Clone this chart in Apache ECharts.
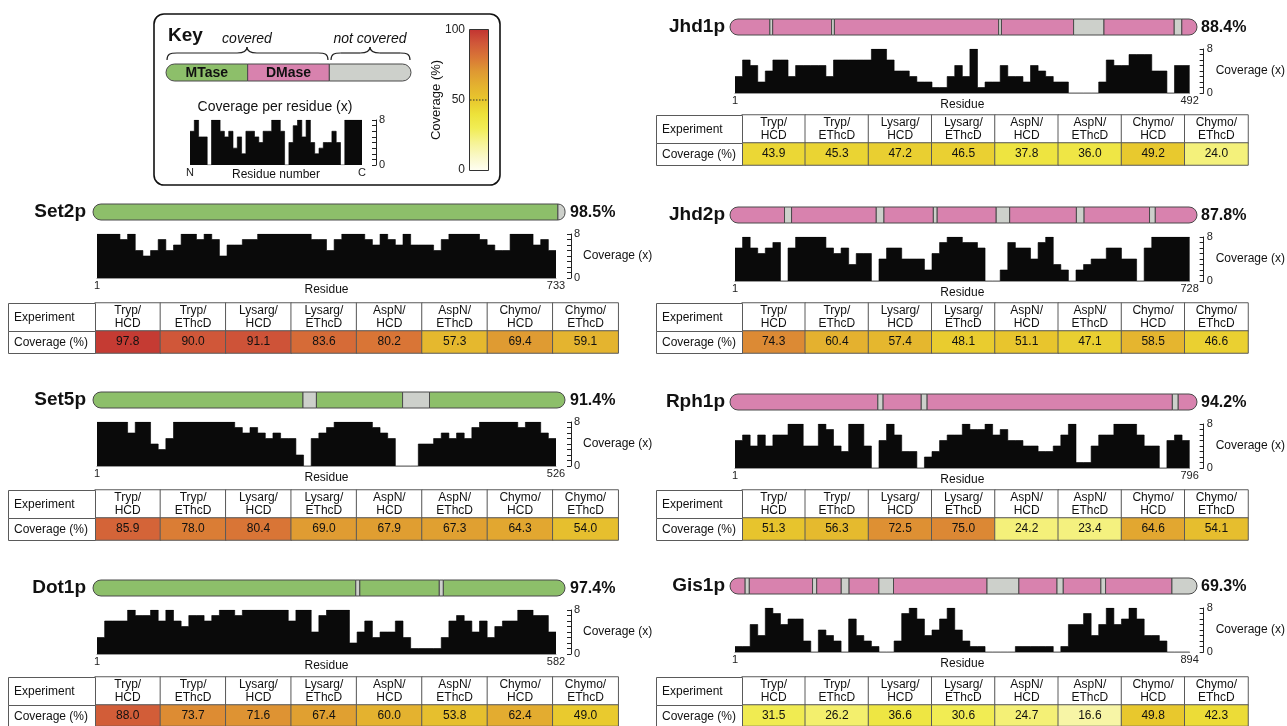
<!DOCTYPE html>
<html>
<head>
<meta charset="utf-8">
<title>Coverage</title>
<script src="https://cdn.jsdelivr.net/npm/echarts@6/dist/echarts.min.js"></script>
<style>
html,body{margin:0;padding:0;background:#fff;}
#chart{width:1287px;height:726px;}
</style>
</head>
<body>
<div id="chart"></div>
<script>
// ---- data ----
var experiments = ['Tryp/\nHCD', 'Tryp/\nEThcD', 'Lysarg/\nHCD', 'Lysarg/\nEThcD', 'AspN/\nHCD', 'AspN/\nEThcD', 'Chymo/\nHCD', 'Chymo/\nEThcD'];
var rowLabels = ['Experiment', 'Coverage (%)'];
var domainColors = ['#8dbf6a', '#d882ae', '#cdd0cb']; // 0 MTase, 1 DMase, 2 not covered
var coverageColors = ['#fffff4', '#faf8c8', '#f6f394', '#f1ed55', '#ede23a', '#e8c72d', '#e4b22f', '#df9932', '#d97636', '#d05739', '#c23331'];

var keyBins = [6,8,5,5,0,8,8,6,5,6, 3,5,2,6,6,5,4,6,6,8, 8,6,0,4,7,8,5,8,4,2, 3,4,4,6,4,0,8,8,8,8];
var keyDomains = [[0, 1, 0], [1, 2, 1], [2, 3, 2]];
var keyDomainLabels = ['MTase', 'DMase', ''];

var set2pExp = [97.8, 90.0, 91.1, 83.6, 80.2, 57.3, 69.4, 59.1];
var set5pExp = [85.9, 78.0, 80.4, 69.0, 67.9, 67.3, 64.3, 54.0];
var dot1pExp = [88.0, 73.7, 71.6, 67.4, 60.0, 53.8, 62.4, 49.0];
var jhd1pExp = [43.9, 45.3, 47.2, 46.5, 37.8, 36.0, 49.2, 24.0];
var jhd2pExp = [74.3, 60.4, 57.4, 48.1, 51.1, 47.1, 58.5, 46.6];
var rph1pExp = [51.3, 56.3, 72.5, 75.0, 24.2, 23.4, 64.6, 54.1];
var gis1pExp = [31.5, 26.2, 36.6, 30.6, 24.7, 16.6, 49.8, 42.3];

// coverage per residue, 60 equal bins along each protein
var set2pBins = [8,8,8,7,8,5,4,5,7,5, 6,8,8,7,8,7,4,6,6,7, 7,8,8,8,8,8,8,8,7,7, 5,7,8,8,8,7,6,8,7,6, 8,6,6,6,5,7,8,8,8,8, 7,6,5,5,8,8,8,6,7,5];
var set5pBins = [8,8,8,8,6,8,8,4,3,5, 8,8,8,8,8,8,8,8,7,6, 7,6,5,6,5,5,2,0,5,6, 7,8,8,8,8,8,7,6,5,0, 0,0,4,4,5,6,5,6,5,7, 8,8,8,8,8,7,8,8,6,5];
var dot1pBins = [3,6,6,6,8,7,7,8,6,8, 6,5,7,7,6,7,8,8,7,8, 8,8,8,8,8,6,8,8,4,7, 8,8,8,2,4,6,3,4,4,6, 3,1,1,1,1,3,6,7,6,4, 6,3,5,6,6,8,8,7,7,4];
var jhd1pBins = [3,6,5,2,4,6,6,3,5,5, 5,5,3,6,6,6,6,6,8,8, 6,4,4,3,2,2,1,1,3,5, 3,8,1,2,2,5,3,3,2,5, 4,3,2,2,0,0,0,0,2,6, 5,5,7,7,7,4,4,0,5,5];
var jhd2pBins = [6,8,6,5,6,7,0,6,8,8, 8,8,6,5,6,3,5,5,0,4, 6,6,4,4,4,2,5,7,8,8, 7,7,6,0,0,2,7,6,6,4, 7,8,3,2,0,2,3,4,4,6, 6,4,4,0,6,8,8,8,8,8];
var rph1pBins = [5,6,4,6,4,6,6,8,8,4, 4,8,7,4,3,8,8,4,0,5, 8,6,3,3,0,2,3,5,6,6, 8,7,7,8,6,7,5,5,4,4, 3,3,4,6,8,1,1,4,6,6, 8,8,8,6,4,4,0,5,6,5];
var gis1pBins = [1,1,5,3,8,7,5,6,6,2, 0,4,3,2,0,6,3,2,1,0, 0,2,7,8,6,3,4,6,8,4, 2,1,1,0,0,0,0,1,1,1, 1,1,0,1,5,5,7,3,5,8, 5,6,8,6,3,3,2,0,0,0];

// domain segments: [start residue, end residue, type]
var set2pDomains = [[0, 722, 0], [722, 733, 2]];
var set5pDomains = [[0, 234, 0], [234, 249, 2], [249, 345, 0], [345, 375, 2], [375, 526, 0]];
var dot1pDomains = [[0, 324, 0], [324, 329, 2], [329, 427, 0], [427, 432, 2], [432, 582, 0]];
var jhd1pDomains = [[0, 42, 1], [42, 45, 2], [45, 107, 1], [107, 110, 2], [110, 283, 1], [283, 286, 2], [286, 362, 1], [362, 394, 2], [394, 468, 1], [468, 476, 2], [476, 492, 1]];
var jhd2pDomains = [[0, 85, 1], [85, 96, 2], [96, 228, 1], [228, 240, 2], [240, 317, 1], [317, 323, 2], [323, 415, 1], [415, 436, 2], [436, 540, 1], [540, 552, 2], [552, 654, 1], [654, 663, 2], [663, 728, 1]];
var rph1pDomains = [[0, 252, 1], [252, 261, 2], [261, 326, 1], [326, 336, 2], [336, 754, 1], [754, 764, 2], [764, 796, 1]];
var gis1pDomains = [[0, 29, 1], [29, 37, 2], [37, 158, 1], [158, 166, 2], [166, 213, 1], [213, 228, 2], [228, 285, 1], [285, 313, 2], [313, 492, 1], [492, 553, 2], [553, 626, 1], [626, 638, 2], [638, 710, 1], [710, 719, 2], [719, 846, 1], [846, 894, 2]];

var proteins = [
  {name: 'Set2p', len: 733, pct: '98.5%', bins: set2pBins, domains: set2pDomains, exp: set2pExp},
  {name: 'Set5p', len: 526, pct: '91.4%', bins: set5pBins, domains: set5pDomains, exp: set5pExp},
  {name: 'Dot1p', len: 582, pct: '97.4%', bins: dot1pBins, domains: dot1pDomains, exp: dot1pExp},
  {name: 'Jhd1p', len: 492, pct: '88.4%', bins: jhd1pBins, domains: jhd1pDomains, exp: jhd1pExp},
  {name: 'Jhd2p', len: 728, pct: '87.8%', bins: jhd2pBins, domains: jhd2pDomains, exp: jhd2pExp},
  {name: 'Rph1p', len: 796, pct: '94.2%', bins: rph1pBins, domains: rph1pDomains, exp: rph1pExp},
  {name: 'Gis1p', len: 894, pct: '69.3%', bins: gis1pBins, domains: gis1pDomains, exp: gis1pExp}
];

// ---- layout ----
var FONT = '"Liberation Sans", Arial, Helvetica, sans-serif';
var BORDER = '#5a5a5a';
var columns = {
  L: {nameRight: 86, barX: 93, barW: 472, pctX: 570, histX: 97, histW: 459, axisOff: 15, tableX: 8, firstW: 87, colW: 65.4},
  R: {nameRight: 725, barX: 730, barW: 467, pctX: 1201, histX: 735, histW: 455, axisOff: 14, tableX: 656, firstW: 86, colW: 63.25}
};
var placement = [
  {col: 'L', barTop: 204, tableTop: 303},
  {col: 'L', barTop: 392, tableTop: 490},
  {col: 'L', barTop: 580, tableTop: 677},
  {col: 'R', barTop: 19, tableTop: 115},
  {col: 'R', barTop: 207, tableTop: 303},
  {col: 'R', barTop: 394, tableTop: 490},
  {col: 'R', barTop: 578, tableTop: 677}
];

var grids = [], xAxes = [], yAxes = [], series = [], graphics = [], covSeries = [];

function addGrid(g, xa, ya) {
  grids.push(g);
  var gi = grids.length - 1;
  xa.gridIndex = gi;
  ya.gridIndex = gi;
  xAxes.push(xa);
  yAxes.push(ya);
  return gi;
}

function txt(x, y, text, font, align, vAlign) {
  return {type: 'text', x: x, y: y, z: 10, silent: true,
    style: {text: text, font: font, fill: '#111', align: align, textAlign: align,
      verticalAlign: vAlign || 'middle', textVerticalAlign: vAlign || 'middle'}};
}

// curly brace pointing up, from xa to xb, tip at xm
function brace(xa, xm, xb, yLow, yMid, yTip) {
  var st = {fill: 'none', stroke: '#222', lineWidth: 1.2};
  function cv(x1, y1, c1x, c1y, c2x, c2y, x2, y2) {
    return {type: 'bezierCurve', z: 5, silent: true, style: st,
      shape: {x1: x1, y1: y1, cpx1: c1x, cpy1: c1y, cpx2: c2x, cpy2: c2y, x2: x2, y2: y2}};
  }
  function ln(x1, x2) {
    return {type: 'line', z: 5, silent: true, style: st, shape: {x1: x1, y1: yMid, x2: x2, y2: yMid}};
  }
  return [
    cv(xa, yLow, xa, yMid + 1, xa + 3, yMid, xa + 10, yMid), ln(xa + 10, xm - 10),
    cv(xm - 10, yMid, xm - 4, yMid, xm, yMid - 2, xm, yTip),
    cv(xm, yTip, xm, yMid - 2, xm + 4, yMid, xm + 10, yMid), ln(xm + 10, xb - 10),
    cv(xb - 10, yMid, xb - 3, yMid, xb, yMid + 1, xb, yLow)
  ];
}

function domainRenderer(count, labels) {
  return function (params, api) {
    var s = api.value(0), e = api.value(1), t = api.value(2);
    var p0 = api.coord([s, 1]), p1 = api.coord([e, 0]);
    var h = p1[1] - p0[1], r = h / 2, i = params.dataIndex;
    var first = i === 0, last = i === count - 1;
    var kids = [{type: 'rect',
      shape: {x: p0[0], y: p0[1], width: p1[0] - p0[0], height: h, r: [first ? r : 0, last ? r : 0, last ? r : 0, first ? r : 0]},
      style: {fill: domainColors[t], stroke: '#4a4a4a', lineWidth: 1}}];
    if (labels && labels[i]) {
      kids.push({type: 'text', style: {text: labels[i], x: (p0[0] + p1[0]) / 2, y: p0[1] + h / 2 + 1,
        align: 'center', verticalAlign: 'middle', font: 'bold 14px ' + FONT, fill: '#111'}});
    }
    return {type: 'group', children: kids};
  };
}

function addDomainBar(left, top, width, height, len, domains, labels) {
  var gi = addGrid({left: left, top: top, width: width, height: height},
    {type: 'value', min: 0, max: len, show: false},
    {type: 'value', min: 0, max: 1, show: false});
  series.push({type: 'custom', xAxisIndex: gi, yAxisIndex: gi, silent: true,
    renderItem: domainRenderer(domains.length, labels), data: domains});
}

function stepPoints(bins, x0, x1) {
  var n = bins.length, pts = bins.map(function (v, i) { return [x0 + i * (x1 - x0) / n, v]; });
  pts.push([x1, bins[n - 1]]);
  return pts;
}

function addHistogram(left, top, width, height, axisOff, x0, x1, bins, labelFn, xName, xNameGap, yName) {
  var gi = addGrid({left: left, top: top, width: width, height: height},
    {type: 'value', min: x0, max: x1, splitLine: {show: false}, axisTick: {show: false},
      axisLine: {show: xName === 'Residue', onZero: false, lineStyle: {color: '#999', width: 1}},
      axisLabel: {showMinLabel: true, showMaxLabel: true, margin: 2, fontSize: 11, color: '#222', fontFamily: FONT, formatter: labelFn},
      name: xName, nameLocation: 'middle', nameGap: xNameGap, nameMoveOverlap: false,
      nameTextStyle: {fontSize: 12, color: '#111', fontFamily: FONT}},
    {type: 'value', min: 0, max: 8, interval: 1, position: 'right', offset: axisOff, splitLine: {show: false},
      axisLine: {show: true, onZero: false, lineStyle: {color: '#222', width: 1}},
      axisTick: {show: true, inside: true, length: 4, lineStyle: {color: '#222', width: 1}},
      axisLabel: {margin: 3, fontSize: 11, color: '#222', fontFamily: FONT,
        formatter: function (v) { return (v === 0 || v === 8) ? String(v) : ''; }},
      name: yName, nameLocation: 'middle', nameRotate: 0, nameGap: 12, nameMoveOverlap: false,
      nameTextStyle: {fontSize: 12, color: '#111', fontFamily: FONT}});
  series.push({type: 'line', xAxisIndex: gi, yAxisIndex: gi, step: 'end', symbol: 'none', silent: true,
    data: stepPoints(bins, x0, x1),
    lineStyle: {width: 0.6, color: '#000'}, areaStyle: {color: '#0a0a0a', opacity: 1}});
}

function addTable(c, top, values) {
  var hH = 28, dH = 22, w = c.colW * 8, left = c.tableX + c.firstW;
  graphics.push({type: 'rect', z: 5, shape: {x: c.tableX + 0.5, y: top + 0.5, width: c.firstW, height: hH},
    style: {fill: '#fff', stroke: BORDER, lineWidth: 1}});
  graphics.push({type: 'rect', z: 5, shape: {x: c.tableX + 0.5, y: top + hH + 0.5, width: c.firstW, height: dH},
    style: {fill: '#fff', stroke: BORDER, lineWidth: 1}});
  graphics.push(txt(c.tableX + 6, top + hH / 2 + 1, rowLabels[0], '12px ' + FONT, 'left'));
  graphics.push(txt(c.tableX + 6, top + hH + dH / 2 + 1, rowLabels[1], '12px ' + FONT, 'left'));

  var gh = addGrid({left: left, top: top, width: w, height: hH},
    {type: 'category', data: experiments, show: false},
    {type: 'category', data: ['h'], show: false});
  series.push({type: 'heatmap', xAxisIndex: gh, yAxisIndex: gh, silent: true, emphasis: {disabled: true},
    itemStyle: {color: '#fff', borderColor: BORDER, borderWidth: 1},
    label: {show: true, fontSize: 12, lineHeight: 13, color: '#111', fontFamily: FONT,
      formatter: function (p) { return experiments[p.data[0]]; }},
    data: experiments.map(function (e, i) { return [i, 0, 0]; })});

  var gd = addGrid({left: left, top: top + hH, width: w, height: dH},
    {type: 'category', data: experiments, show: false},
    {type: 'category', data: ['c'], show: false});
  series.push({type: 'heatmap', xAxisIndex: gd, yAxisIndex: gd, silent: true, emphasis: {disabled: true},
    itemStyle: {borderColor: BORDER, borderWidth: 1},
    label: {show: true, fontSize: 12, color: '#111', fontFamily: FONT,
      formatter: function (p) { return p.data[2].toFixed(1); }},
    data: values.map(function (v, i) { return [i, 0, v]; })});
  covSeries.push(series.length - 1);
}

// ---- key ----
graphics.push({type: 'rect', z: 1, shape: {x: 154, y: 14, width: 346, height: 171, r: 10},
  style: {fill: 'none', stroke: '#111', lineWidth: 1.6}});
graphics.push(txt(168, 36, 'Key', 'bold 19px ' + FONT, 'left'));
graphics.push(txt(247, 39, 'covered', 'italic 14px ' + FONT, 'center'));
graphics.push(txt(370, 39, 'not covered', 'italic 14px ' + FONT, 'center'));
graphics = graphics.concat(brace(167, 247, 328, 60, 53, 47), brace(331, 370, 410, 60, 53, 47));
graphics.push(txt(275, 107, 'Coverage per residue (x)', '14px ' + FONT, 'center'));
addDomainBar(166, 64, 245, 17, 3, keyDomains, keyDomainLabels);
addHistogram(190, 120, 172, 45, 14, 0, keyBins.length, keyBins,
  function (v) { return v === 0 ? 'N' : (v === keyBins.length ? 'C' : ''); }, 'Residue number', 4, '');

// colour bar
graphics.push({type: 'rect', z: 5, shape: {x: 469.5, y: 29.5, width: 19, height: 141},
  style: {fill: new echarts.graphic.LinearGradient(0, 1, 0, 0, coverageColors.map(function (c, i) {
    return {offset: i / (coverageColors.length - 1), color: c};
  })), stroke: '#333', lineWidth: 1}});
graphics.push({type: 'line', z: 6, shape: {x1: 470, y1: 100, x2: 488, y2: 100},
  style: {stroke: '#333', lineWidth: 1, lineDash: [1.5, 1.5]}});
addGrid({left: 469, top: 30, width: 19, height: 140},
  {type: 'value', min: 0, max: 1, show: false},
  {type: 'value', min: 0, max: 100, interval: 50, position: 'left', splitLine: {show: false},
    axisLine: {show: false, onZero: false}, axisTick: {show: false},
    axisLabel: {margin: 4, fontSize: 12, color: '#222', fontFamily: FONT},
    name: 'Coverage (%)', nameLocation: 'middle', nameGap: 26, nameRotate: 90, nameMoveOverlap: false,
    nameTextStyle: {fontSize: 13, color: '#111', fontFamily: FONT}});

// ---- protein panels ----
proteins.forEach(function (p, k) {
  var pl = placement[k], c = columns[pl.col], by = pl.barTop;
  graphics.push(txt(c.nameRight, by + 8, p.name, 'bold 19px ' + FONT, 'right'));
  graphics.push(txt(c.pctX, by + 9, p.pct, 'bold 16px ' + FONT, 'left'));
  addDomainBar(c.barX, by, c.barW, 16, p.len, p.domains, null);
  addHistogram(c.histX, by + 30, c.histW, 44, c.axisOff, 1, p.len, p.bins,
    function (v) { return (v === 1 || v === p.len) ? String(v) : ''; }, 'Residue', 6, 'Coverage (x)');
  addTable(c, pl.tableTop, p.exp);
});

var chart = echarts.init(document.getElementById('chart'));
chart.setOption({
  animation: false,
  backgroundColor: '#fff',
  grid: grids,
  xAxis: xAxes,
  yAxis: yAxes,
  visualMap: {type: 'continuous', show: false, min: 0, max: 100, dimension: 2, seriesIndex: covSeries,
    inRange: {color: coverageColors}},
  graphic: {elements: graphics},
  series: series
});
</script>
</body>
</html>
